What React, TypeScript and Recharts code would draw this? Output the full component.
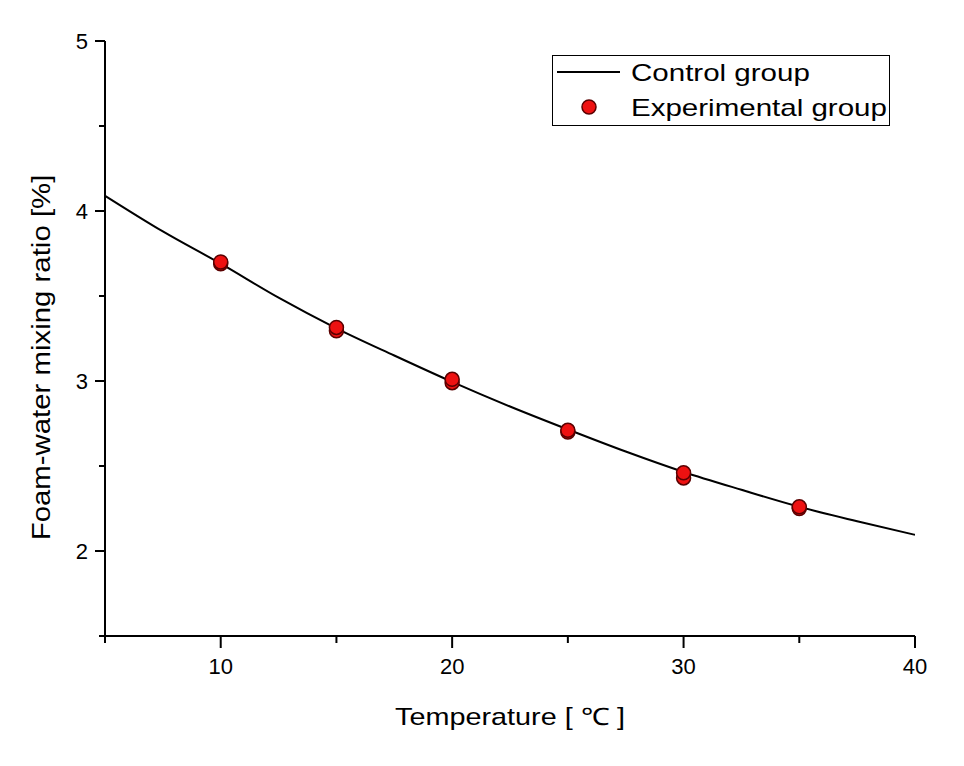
import React from "react";
import { ComposedChart, Line, Scatter, XAxis, YAxis } from "recharts";

// control group curve
const controlTemps = [5, 7.5, 10, 12.5, 15, 17.5, 20, 22.5, 25, 27.5, 30, 32.5, 35, 37.5, 40];
const controlRatio = [4.09, 3.88, 3.69, 3.49, 3.31, 3.15, 2.995, 2.85, 2.715, 2.585, 2.465, 2.36, 2.26, 2.175, 2.095];

// experimental group, two runs per temperature
const expTemps = [10, 10, 15, 15, 20, 20, 25, 25, 30, 30, 35, 35];
const expRatio = [3.69, 3.7, 3.295, 3.315, 2.99, 3.01, 2.7, 2.71, 2.43, 2.46, 2.25, 2.26];

const xTicks = [5, 10, 15, 20, 25, 30, 35, 40];
const yTicks = [1.5, 2, 2.5, 3, 3.5, 4, 4.5, 5];

const controlData = controlTemps.map((t, i) => ({ x: t, y: controlRatio[i] }));
const expData = expTemps.map((t, i) => ({ x: t, y: expRatio[i] }));

const FONT = "'Liberation Sans', Arial, sans-serif";

const XTick = ({ x, y, payload }: any) => {
  const major = payload.value % 10 === 0;
  return (
    <g>
      <line x1={x} x2={x} y1={y} y2={y + (major ? 12 : 7)} stroke="#000" strokeWidth={2} />
      {major && (
        <text x={x} y={y + 30} textAnchor="middle" dominantBaseline="central" fontSize={22} fontFamily={FONT} fill="#000">
          {payload.value}
        </text>
      )}
    </g>
  );
};

const YTick = ({ x, y, payload }: any) => {
  const major = Number.isInteger(payload.value);
  return (
    <g>
      <line x1={x} x2={x - (major ? 10 : 6)} y1={y} y2={y} stroke="#000" strokeWidth={2} />
      {major && (
        <text x={x - 17} y={y} textAnchor="end" dominantBaseline="central" fontSize={22} fontFamily={FONT} fill="#000">
          {payload.value}
        </text>
      )}
    </g>
  );
};

const Dot = (props: any) => (
  <circle cx={props.cx} cy={props.cy} r={7} fill="#ee1111" stroke="#5a0000" strokeWidth={1.5} />
);

// the original font is drawn a bit wide, so stretch it horizontally
const WideText = ({ x, y, sx, rotate = 0, anchor = "start", size, children }: any) => (
  <text
    transform={`translate(${x} ${y}) rotate(${rotate}) scale(${sx} 1)`}
    textAnchor={anchor}
    dominantBaseline="central"
    fontSize={size}
    fontFamily={FONT}
    fill="#000"
  >
    {children}
  </text>
);

const LegendBox = () => (
  <svg
    width={338}
    height={71}
    style={{ position: "absolute", left: 552, top: 55, display: "block" }}
  >
    <rect x={0.5} y={0.5} width={337} height={70} fill="#fff" stroke="#000" strokeWidth={1} />
    <line x1={5} x2={68} y1={17} y2={17} stroke="#000" strokeWidth={2} />
    <WideText x={79} y={18} sx={1.23} size={24}>Control group</WideText>
    <circle cx={37} cy={52} r={7} fill="#ee1111" stroke="#5a0000" strokeWidth={1.5} />
    <WideText x={79} y={53} sx={1.23} size={24}>Experimental group</WideText>
  </svg>
);

const App = () => {
  return (
    <div style={{ position: "absolute", left: 0, top: 0, width: 964, height: 766, background: "#fff" }}>
      <ComposedChart width={964} height={766} margin={{ top: 41, right: 49, left: 0, bottom: 0 }}>
        <XAxis
          dataKey="x"
          type="number"
          domain={[5, 40]}
          ticks={xTicks}
          allowDataOverflow
          height={130}
          tickSize={0}
          tickMargin={0}
          tickLine={false}
          tick={<XTick />}
          axisLine={{ stroke: "#000", strokeWidth: 2 }}
          label={({ viewBox }: any) => (
            <WideText x={viewBox.x + viewBox.width / 2} y={viewBox.y + 81} sx={1.2} size={24} anchor="middle">
              Temperature [ ℃ ]
            </WideText>
          )}
        />
        <YAxis
          dataKey="y"
          type="number"
          domain={[1.5, 5]}
          ticks={yTicks}
          allowDataOverflow
          width={105}
          tickSize={0}
          tickMargin={0}
          tickLine={false}
          tick={<YTick />}
          axisLine={{ stroke: "#000", strokeWidth: 2 }}
          label={({ viewBox }: any) => (
            <WideText x={41} y={viewBox.y + viewBox.height / 2 + 19} sx={1.13} rotate={-90} size={26} anchor="middle">
              Foam-water mixing ratio [%]
            </WideText>
          )}
        />
        <Line
          data={controlData}
          dataKey="y"
          name="Control group"
          type="monotone"
          stroke="#000"
          strokeWidth={2}
          dot={false}
          activeDot={false}
          isAnimationActive={false}
        />
        <Scatter
          data={expData}
          dataKey="y"
          name="Experimental group"
          shape={<Dot />}
          isAnimationActive={false}
        />
      </ComposedChart>
      <LegendBox />
    </div>
  );
};

export default App;
